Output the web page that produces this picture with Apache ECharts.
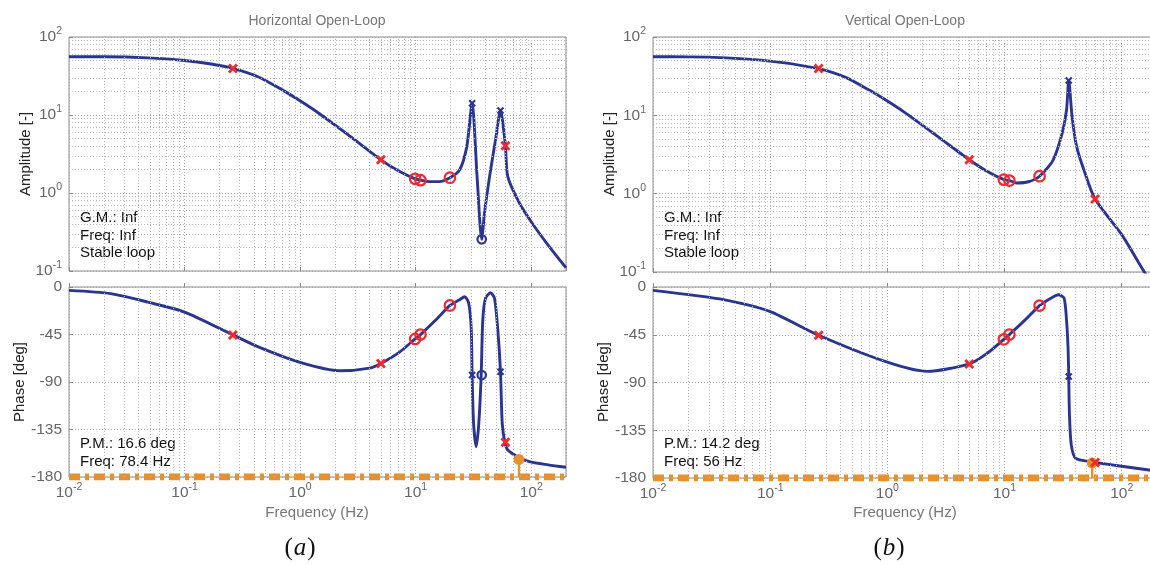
<!DOCTYPE html>
<html>
<head>
<meta charset="utf-8">
<script src="https://cdn.jsdelivr.net/npm/echarts@6/dist/echarts.min.js"></script>
<style>html,body{margin:0;padding:0;background:#fff;overflow:hidden;width:1150px;height:565px}#c{width:1160px;height:565px}</style>
</head>
<body>
<div id="c"></div>
<script>
// ---------------- DATA ----------------
// Horizontal open-loop: amplitude curve
const hAmpFreq = [0.01, 0.02, 0.048, 0.1, 0.17, 0.262, 0.44, 0.7, 1, 1.44, 2.77, 5, 7.2, 9.9, 11, 13.2, 16.1, 19.8, 24, 27.7, 30.8, 34, 37.3, 39.4, 43.6, 49.1, 54.2, 59.8, 62.7, 79, 102, 140, 200];
const hAmp     = [55.9, 55.8, 54, 50, 45, 39.5, 30.5, 21, 15.2, 10.6, 5.2, 2.66, 1.9, 1.52, 1.46, 1.40, 1.40, 1.57, 1.97, 3.93, 14.1, 1.62, 0.255, 0.55, 1.62, 4.78, 11.4, 4.04, 1.62, 0.745, 0.41, 0.215, 0.11];
// Horizontal open-loop: phase curve
const hPhFreq = [0.01, 0.023, 0.048, 0.1, 0.262, 0.44, 1, 2.22, 4.0, 5, 7.2, 9.9, 11, 15, 19.8, 24, 26.5, 28.8, 30.3, 30.8, 31.7, 33.4, 35.2, 36.9, 38.1, 40.2, 44.4, 48.1, 51.4, 54.2, 56.1, 59.1, 62.7, 78, 96.4, 140, 200];
const hPhase  = [-3.2, -6.3, -14.3, -23.8, -45.4, -57, -71.4, -79.4, -76.8, -72.4, -61.9, -49.2, -45.1, -31.1, -17.5, -12, -9.2, -15.5, -40.7, -83.4, -129, -151.3, -129, -83.4, -31.3, -10.7, -5.4, -10.7, -40.7, -80.2, -129, -147, -154.4, -161.4, -165.5, -168.5, -170.8];
// Horizontal markers
const hRedXFreq = [0.262, 5, 59.8],   hRedXAmp = [39.5, 2.66, 4.04],  hRedXPh = [-45.4, -72.4, -147];
const hRedOFreq = [9.9, 11, 19.8],    hRedOAmp = [1.52, 1.46, 1.57],  hRedOPh = [-49.2, -45.1, -17.5];
const hBlueXFreq = [30.8, 54.2],      hBlueXAmp = [14.1, 11.4],       hBlueXPh = [-83.4, -80.2];
const hBlueOFreq = [37.3],            hBlueOAmp = [0.255],            hBlueOPh = [-83.4];
const hPMFreq = 78.4, hPMPhase = -163.4;
const hGM = ['G.M.: Inf', 'Freq: Inf', 'Stable loop'];
const hPM = ['P.M.: 16.6 deg', 'Freq: 78.4 Hz'];

// Vertical open-loop: amplitude curve
const vAmpFreq = [0.01, 0.02, 0.084, 0.259, 0.44, 0.7, 1, 1.44, 2.77, 5, 7.2, 9.87, 11, 12.7, 16, 19.9, 25.9, 31, 33.8, 35.3, 37.7, 41.3, 47.7, 59.2, 100, 156, 200];
const vAmp     = [55.9, 55.8, 50.6, 39.5, 30.5, 21, 15.2, 10.6, 5.2, 2.71, 1.9, 1.51, 1.47, 1.37, 1.42, 1.67, 2.66, 5.87, 11.7, 27.9, 9.6, 3.95, 1.98, 0.853, 0.30, 0.1, 0.058];
// Vertical open-loop: phase curve
const vPhFreq = [0.01, 0.041, 0.1, 0.259, 1, 2.19, 5, 7.2, 9.87, 11, 15, 19.9, 24, 28.9, 32.2, 33.8, 34.8, 35.3, 35.8, 37.1, 40.5, 55.1, 59.2, 100, 177, 200];
const vPhase  = [-3.2, -12.1, -23.2, -45.5, -70.9, -79.5, -72.5, -62, -49.3, -44.8, -31, -17.5, -11.5, -7.3, -10.5, -31.2, -56.6, -84.3, -120, -148.8, -161.6, -164.7, -165.4, -168.9, -172.7, -173.5];
// Vertical markers
const vRedXFreq = [0.259, 5, 59.2],   vRedXAmp = [39.5, 2.71, 0.853], vRedXPh = [-45.5, -72.5, -165.4];
const vRedOFreq = [9.87, 11, 19.9],   vRedOAmp = [1.51, 1.47, 1.67],  vRedOPh = [-49.3, -44.8, -17.5];
const vBlueXFreq = [35.3],            vBlueXAmp = [27.9],             vBlueXPh = [-84.3];
const vBlueOFreq = [],                vBlueOAmp = [],                 vBlueOPh = [];
const vPMFreq = 56, vPMPhase = -165.8;
const vGM = ['G.M.: Inf', 'Freq: Inf', 'Stable loop'];
const vPM = ['P.M.: 14.2 deg', 'Freq: 56 Hz'];

const titles = ['Horizontal Open-Loop', 'Vertical Open-Loop'];
const captions = ['a', 'b'];
const phaseTicks = [-180, -135, -90, -45, 0];

// ---------------- STYLE ----------------
const FONT = '"Liberation Sans", Arial, Helvetica, sans-serif';
const NAVY = '#2a358f';
const RED = '#ee2a2e';
const ORANGE = '#e8912c';
const GRIDC = '#a8a8a8';
const XPATH = 'path://M2,0L5,3L8,0L10,2L7,5L10,8L8,10L5,7L2,10L0,8L3,5L0,2Z';

const zip = (a, b) => a.map((v, i) => [v, b[i]]);

function powLabel(v) {
  const e = Math.log10(v);
  if (Math.abs(e - Math.round(e)) > 1e-6) return '';
  return '{b|10}{s|' + Math.round(e) + '}';
}
const richPow = {
  b: { fontSize: 15.5, fontFamily: FONT, color: '#666', lineHeight: 22 },
  s: { fontSize: 10.5, fontFamily: FONT, color: '#666', verticalAlign: 'top' }
};

const freqMinor = [];
for (let d = -2; d <= 2; d++) for (let k = 2; k <= 9; k++) { const v = k * Math.pow(10, d); if (v < 200) freqMinor.push(+v.toPrecision(3)); }
const ampMinor = [];
for (let d = -1; d <= 1; d++) for (let k = 2; k <= 9; k++) ampMinor.push(+(k * Math.pow(10, d)).toPrecision(3));

const panels = [
  { left: 69, width: 497, ampTop: 37, ampH: 234, phTop: 287, phH: 190,
    ampF: hAmpFreq, amp: hAmp, phF: hPhFreq, ph: hPhase,
    rxF: hRedXFreq, rxA: hRedXAmp, rxP: hRedXPh, roF: hRedOFreq, roA: hRedOAmp, roP: hRedOPh,
    bxF: hBlueXFreq, bxA: hBlueXAmp, bxP: hBlueXPh, boF: hBlueOFreq, boA: hBlueOAmp, boP: hBlueOPh,
    pmF: hPMFreq, pmP: hPMPhase, gm: hGM, pm: hPM },
  { left: 653, width: 504, ampTop: 37, ampH: 235, phTop: 287, phH: 191,
    ampF: vAmpFreq, amp: vAmp, phF: vPhFreq, ph: vPhase,
    rxF: vRedXFreq, rxA: vRedXAmp, rxP: vRedXPh, roF: vRedOFreq, roA: vRedOAmp, roP: vRedOPh,
    bxF: vBlueXFreq, bxA: vBlueXAmp, bxP: vBlueXPh, boF: vBlueOFreq, boA: vBlueOAmp, boP: vBlueOPh,
    pmF: vPMFreq, pmP: vPMPhase, gm: vGM, pm: vPM }
];

const grid = [], xAxis = [], yAxis = [], series = [], graphic = [];
const dotted = [1, 2];

panels.forEach((p, pi) => {
  const ia = pi * 2, ip = pi * 2 + 1;
  grid.push({ left: p.left, top: p.ampTop, width: p.width, height: p.ampH, show: true, borderColor: '#8c8c8c', borderWidth: 1, backgroundColor: '#fff' });
  grid.push({ left: p.left, top: p.phTop, width: p.width, height: p.phH, show: true, borderColor: '#8c8c8c', borderWidth: 1, backgroundColor: '#fff' });
  [ia, ip].forEach(gi => {
    xAxis.push({
      type: 'log', logBase: 10, min: 0.01, max: 200, gridIndex: gi,
      axisLine: { show: false },
      axisTick: { show: true, inside: true, length: 4, lineStyle: { color: '#8c8c8c' } },
      splitLine: { show: true, lineStyle: { color: GRIDC, type: dotted, width: 1 } },
      axisLabel: gi === ip ? { show: true, margin: 5, formatter: powLabel, rich: richPow, showMinLabel: true, showMaxLabel: false } : { show: false }
    });
  });
  yAxis.push({
    type: 'log', logBase: 10, min: 0.1, max: 100, gridIndex: ia,
    axisLine: { show: false },
    axisTick: { show: true, inside: true, length: 4, lineStyle: { color: '#8c8c8c' } },
    splitLine: { show: true, lineStyle: { color: GRIDC, type: dotted, width: 1 } },
    axisLabel: { margin: 7, formatter: powLabel, rich: richPow }
  });
  yAxis.push({
    type: 'value', min: phaseTicks[0], max: phaseTicks[phaseTicks.length - 1], interval: 45, gridIndex: ip,
    axisLine: { show: false },
    axisTick: { show: true, inside: true, length: 4, lineStyle: { color: '#8c8c8c' } },
    splitLine: { show: true, lineStyle: { color: GRIDC, type: dotted, width: 1 } },
    axisLabel: { margin: 7, fontSize: 15.5, fontFamily: FONT, color: '#666' }
  });

  const mlBase = { silent: true, symbol: ['none', 'none'], label: { show: false }, animation: false,
    lineStyle: { color: '#b8b8b8', type: dotted, width: 1 } };
  // minor grid
  series.push({ type: 'line', xAxisIndex: ia, yAxisIndex: ia, data: [], z: 1,
    markLine: Object.assign({}, mlBase, { data: freqMinor.map(v => ({ xAxis: v })).concat(ampMinor.map(v => ({ yAxis: v }))) }) });
  series.push({ type: 'line', xAxisIndex: ip, yAxisIndex: ip, data: [], z: 1,
    markLine: Object.assign({}, mlBase, { data: freqMinor.map(v => ({ xAxis: v })) }) });

  // curves
  series.push({ type: 'line', xAxisIndex: ia, yAxisIndex: ia, data: zip(p.ampF, p.amp), symbol: 'none', smooth: 0.25,
    lineStyle: { color: NAVY, width: 2.9 }, z: 3, clip: true });
  series.push({ type: 'line', xAxisIndex: ip, yAxisIndex: ip, data: zip(p.phF, p.ph), symbol: 'none', smooth: 0.25,
    lineStyle: { color: NAVY, width: 2.9 }, z: 3, clip: true });

  // -180 line and PM stem
  series.push({ type: 'line', xAxisIndex: ip, yAxisIndex: ip, data: [[0.01, -180], [200, -180]], symbol: 'none',
    lineStyle: { color: ORANGE, width: 7, type: [11, 5, 4, 5] }, z: 4 });
  series.push({ type: 'line', xAxisIndex: ip, yAxisIndex: ip, data: [[p.pmF, -180], [p.pmF, p.pmP]], symbol: 'none',
    lineStyle: { color: ORANGE, width: 2.4 }, z: 4 });
  series.push({ type: 'scatter', xAxisIndex: ip, yAxisIndex: ip, data: [[p.pmF, p.pmP]], symbol: 'circle', symbolSize: 11,
    itemStyle: { color: ORANGE, opacity: 1 }, z: 5 });

  // markers
  const mk = (gi, f, v, sym, size, color, hollow) => series.push({
    type: 'scatter', xAxisIndex: gi, yAxisIndex: gi, data: zip(f, v), symbol: sym, symbolSize: size, z: 6,
    itemStyle: hollow ? { color: 'rgba(0,0,0,0)', borderColor: color, borderWidth: 2.2, opacity: 1 } : { color: color, opacity: 1 }
  });
  mk(ia, p.rxF, p.rxA, XPATH, 10, RED, false);
  mk(ip, p.rxF, p.rxP, XPATH, 10, RED, false);
  mk(ia, p.roF, p.roA, 'circle', 10.5, RED, true);
  mk(ip, p.roF, p.roP, 'circle', 10.5, RED, true);
  mk(ia, p.bxF, p.bxA, XPATH, 7.5, NAVY, false);
  mk(ip, p.bxF, p.bxP, XPATH, 7.5, NAVY, false);
  mk(ia, p.boF, p.boA, 'circle', 8.5, NAVY, true);
  mk(ip, p.boF, p.boP, 'circle', 8.5, NAVY, true);

  // texts
  const cx = p.left + (pi === 0 ? 248 : 252);
  graphic.push({ type: 'text', x: cx, y: 21, style: { text: titles[pi], font: '14px ' + FONT, fill: '#777', textAlign: 'center', textVerticalAlign: 'middle' } });
  graphic.push({ type: 'text', x: cx, y: 513, style: { text: 'Frequency (Hz)', font: '15px ' + FONT, fill: '#777', textAlign: 'center', textVerticalAlign: 'middle' } });
  graphic.push({ type: 'text', x: p.left - 43, y: 154, rotation: Math.PI / 2, style: { text: 'Amplitude [-]', font: '15px ' + FONT, fill: '#222', textAlign: 'center', textVerticalAlign: 'middle' } });
  graphic.push({ type: 'text', x: p.left - 49, y: 382, rotation: Math.PI / 2, style: { text: 'Phase [deg]', font: '15px ' + FONT, fill: '#222', textAlign: 'center', textVerticalAlign: 'middle' } });
  p.gm.forEach((t, i) => graphic.push({ type: 'text', x: p.left + 11, y: 218 + i * 17.5, style: { text: t, font: '15px ' + FONT, fill: '#111', textAlign: 'left', textVerticalAlign: 'middle' } }));
  p.pm.forEach((t, i) => graphic.push({ type: 'text', x: p.left + 11, y: 444 + i * 18, style: { text: t, font: '15px ' + FONT, fill: '#111', textAlign: 'left', textVerticalAlign: 'middle' } }));
  graphic.push({ type: 'text', x: pi === 0 ? 300 : 889, y: 548, style: {
    text: '{p|(}{i|' + captions[pi] + '}{p|)}', textAlign: 'center', textVerticalAlign: 'middle',
    rich: { p: { font: '25px "Liberation Serif", "DejaVu Serif", serif', fill: '#111' }, i: { font: 'italic 25px "Liberation Serif", "DejaVu Serif", serif', fill: '#111', padding: [0, 1, 0, 1] } } } });
});

const chart = echarts.init(document.getElementById('c'), null, { renderer: 'canvas' });
chart.setOption({ animation: false, backgroundColor: '#fff', grid, xAxis, yAxis, series, graphic });
</script>
</body>
</html>
